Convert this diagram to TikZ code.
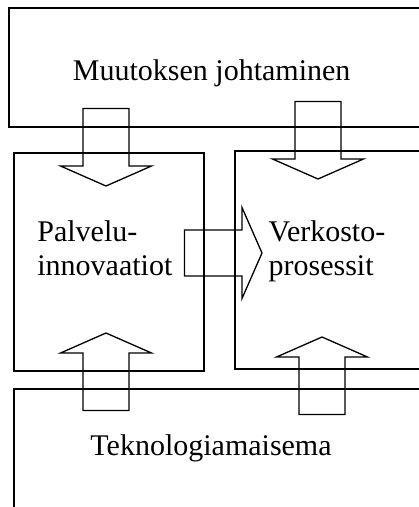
\documentclass[tikz,border=0pt]{standalone}
\usepackage{fontspec}
\setmainfont{Liberation Serif}
\begin{document}
\begin{tikzpicture}[x=1pt,y=-1pt,
  line width=1.3pt,
  box/.style={draw,rectangle,inner sep=0pt,outer sep=0pt,anchor=north west},
  lbl/.style={inner sep=0pt,font=\fontsize{30}{34}\selectfont},
  blockarrow/.pic={\draw[line join=miter] (0,0) -- (-20,-45.5) -- (-20,-23) -- (-77.5,-23) -- (-77.5,23) -- (-20,23) -- (-20,45.5) -- cycle;}
]
\useasboundingbox (0,0) rectangle (419,507);
\clip (0,0) rectangle (419,507);
% boxes
\node[box,minimum width=430pt,minimum height=119pt] (muutos) at (9,8) {};
\node[box,minimum width=190pt,minimum height=218pt] (palvelu) at (14,153) {};
\node[box,minimum width=200pt,minimum height=218pt] (verkosto) at (235,151) {};
\node[box,minimum width=420pt,minimum height=140pt] (tekno) at (14,389) {};
% labels
\node[lbl,anchor=base] (tmuutos) at (211.7,80) {Muutoksen johtaminen};
\node[lbl,anchor=base west,align=left] (tpalvelu) at (36.7,275.5) {Palvelu-\\innovaatiot};
\node[lbl,anchor=base west,align=left] (tverkosto) at (268,275.5) {Verkosto-\\prosessit};
\node[lbl,anchor=base] (ttekno) at (211,455) {Teknologiamaisema};
% block arrows
\pic[rotate=-90] at (106,186) {blockarrow};
\pic[rotate=-90] at (318,179) {blockarrow};
\pic at (262,253) {blockarrow};
\pic[rotate=90] at (106,333) {blockarrow};
\pic[rotate=90] at (322,337) {blockarrow};
\end{tikzpicture}
\end{document}
